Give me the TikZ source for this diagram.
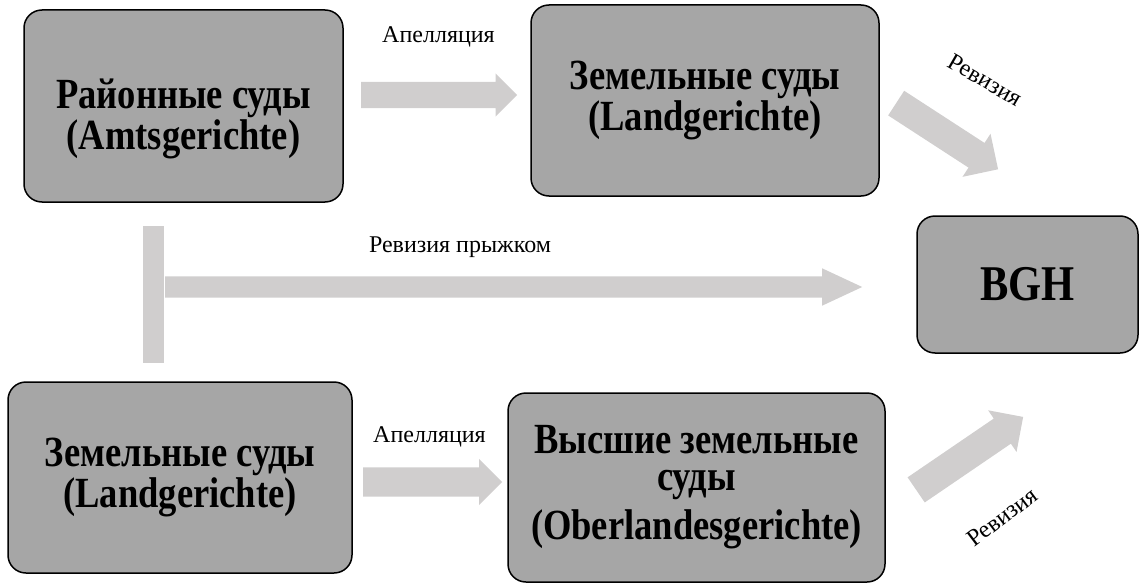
\documentclass[tikz,border=0pt]{standalone}
\usepackage{fontspec}
\setmainfont{Liberation Serif}
\newfontfamily\courtfont[FakeStretch=0.85]{Liberation Serif}
\usepackage{tikz}
\usetikzlibrary{shapes.arrows}
\definecolor{boxgray}{HTML}{A6A6A6}
\definecolor{arrowgray}{HTML}{D0CECE}

\begin{document}
\begin{tikzpicture}[x=1pt, y=-1pt,
        court/.style={draw, line width=1.5pt, fill=boxgray, rounded corners=18pt, inner sep=0pt},
        courttext/.style={align=center, inner sep=0pt, font=\courtfont\bfseries\fontsize{43}{37}\selectfont},
        blockarrow/.style 2 args={single arrow, fill=arrowgray, inner xsep=0pt, inner ysep=#1/2,
            single arrow head extend=#2, anchor=tail},
        lbl/.style={font=\fontsize{24}{28}\selectfont}]
        \useasboundingbox (0,0) rectangle (1140,583);

        \node[court, minimum width=319pt, minimum height=192pt] (amts) at (183.5,106) {};
        \node[courttext] (amtstext) at (183.5,119) {Районные суды\\(Amtsgerichte)};
        \node[court, courttext, minimum width=348pt, minimum height=191pt] (land1) at (705,100.5) {Земельные суды\\(Landgerichte)};
        \node[court, courttext, minimum width=221pt, minimum height=137pt, font=\courtfont\bfseries\fontsize{50}{50}\selectfont] (bgh) at (1027.5,284.5) {BGH};
        \node[court, courttext, minimum width=344pt, minimum height=191pt] (land2) at (180,477.5) {Земельные суды\\(Landgerichte)};
        \node[court, courttext, minimum width=377pt, minimum height=189pt] (olg) at (696.5,487.5) {Высшие земельные\\суды\\[9pt](Oberlandesgerichte)};

        \node[blockarrow={26pt}{8.5pt}, minimum height=156pt] (apel1) at (361,95) {};
        \node[blockarrow={29pt}{8.5pt}, minimum height=139pt] (apel2) at (363,482) {};
        \node[blockarrow={21pt}{8pt}, single arrow tip angle=50, minimum height=697pt] (jumparrow) at (165,287) {};
        \node[fill=arrowgray, inner sep=0pt, minimum width=21pt, minimum height=137pt] (jumpbar) at (153.5,294.5) {};
        \node[blockarrow={29pt}{11pt}, rotate=-33, minimum height=121.5pt] (rev1) at (896,103) {};
        \node[blockarrow={30pt}{10pt}, rotate=34.3, minimum height=129.5pt] (rev2) at (916,490) {};

        \node[lbl] (apel1label) at (438.5,37) {Апелляция};
        \node[lbl] (apel2label) at (429.5,437) {Апелляция};
        \node[lbl] (jumplabel) at (460,247) {Ревизия прыжком};
        \node[lbl, rotate=-30] (rev1label) at (985,80) {Ревизия};
        \node[lbl, rotate=37] (rev2label) at (1002,517) {Ревизия};
\end{tikzpicture}
\end{document}
